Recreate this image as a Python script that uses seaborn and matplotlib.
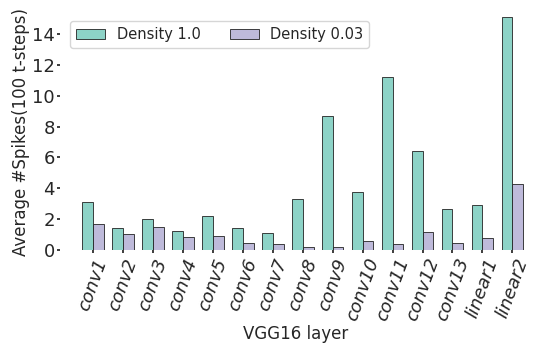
import matplotlib.pyplot as plt
import seaborn as sns
import pandas as pd

# layer names and spike counts
layers = ["conv1", "conv2", "conv3", "conv4", "conv5", "conv6", "conv7", "conv8",
          "conv9", "conv10", "conv11", "conv12", "conv13", "linear1", "linear2"]
dense = [3.14, 1.44, 2.02, 1.24, 2.18, 1.44, 1.08, 3.32, 8.68, 3.77, 11.2, 6.39, 2.65, 2.89, 15.07]
sparse = [1.71, 1.06, 1.48, 0.83, 0.92, 0.45, 0.40, 0.20, 0.23, 0.56, 0.40, 1.19, 0.47, 0.81, 4.27]

df = pd.DataFrame({
    "layer": layers * 2,
    "spikes": dense + sparse,
    "density": ["Density 1.0"] * len(layers) + ["Density 0.03"] * len(layers),
})

sns.set_theme(style="white")
fig, ax = plt.subplots(figsize=(5.33, 3.45), dpi=100)

sns.barplot(data=df, x="layer", y="spikes", hue="density",
            palette=["#8dd3c7", "#bebada"], saturation=1,
            edgecolor="#222222", linewidth=0.6, width=0.72, ax=ax)

ax.set_xlabel("VGG16 layer", fontsize=12, labelpad=1)
ax.set_ylabel("Average #Spikes(100 t-steps)", fontsize=12, labelpad=1)
ax.set_xlim(-1.1, 14.6)
ax.set_ylim(0, 15.3)
ax.set_yticks([0, 2, 4, 6, 8, 10, 12, 14])
ax.tick_params(axis="y", labelsize=13, length=2, left=True, pad=2)
ax.tick_params(axis="x", labelsize=13, length=2, bottom=True, pad=2)
for lbl in ax.get_xticklabels():
    lbl.set_rotation(70)
    lbl.set_style("italic")
    lbl.set_ha("center")
for s in ax.spines.values():
    s.set_visible(False)

ax.legend(ncol=2, loc="upper left", fontsize=10.5, frameon=True,
          bbox_to_anchor=(0.005, 1.0), columnspacing=2.0, handlelength=2.0)

plt.subplots_adjust(left=0.113, right=0.995, top=0.96, bottom=0.275)
plt.savefig("out.png", dpi=100)
